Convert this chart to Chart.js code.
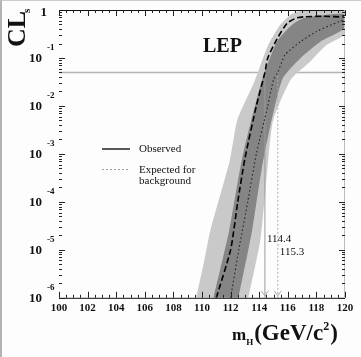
<!DOCTYPE html>
<html>
<head>
<meta charset="utf-8">
<script src="https://cdn.jsdelivr.net/npm/chart.js@4.4.0/dist/chart.umd.min.js"></script>
<style>
  html, body { margin: 0; padding: 0; background: #fdfdfd; }
  #wrap { position: relative; width: 361px; height: 357px; box-sizing: border-box;
          border-left: 2px solid #b4b4b4; border-top: 1px solid #cccccc; }
  canvas { display: block; }
</style>
</head>
<body>
<div id="wrap"><canvas id="cls-chart"></canvas></div>
<script>
// observed CLs vs Higgs mass
const obsMass = [111.0, 112.0, 112.5, 113.0, 113.8, 114.4, 114.6, 115.25, 115.95, 116.6, 117.1, 118.5, 120.0];
const obsCLs = [1e-6, 1e-5, 1e-4, 8e-4, 1e-2, 0.05, 0.1, 0.25, 0.53, 0.68, 0.72, 0.74, 0.71];

// expected for background
const expMass = [112.0, 112.57, 113.2, 113.8, 114.6, 115.0, 115.3, 115.8, 116.9, 118.0, 119.6, 120.0];
const expCLs = [1e-6, 1e-5, 1e-4, 1e-3, 1e-2, 0.035, 0.05, 0.115, 0.22, 0.355, 0.575, 0.63];

// 1 sigma band (upper CLs edge / lower CLs edge)
const band1UpMass = [110.8, 111.9, 112.8, 114.2, 115.25, 116.3, 117.1, 118.5, 120.0];
const band1UpCLs = [1e-6, 2.5e-5, 7.9e-4, 0.035, 0.22, 0.49, 0.68, 0.78, 0.81];
const band1DnMass = [112.55, 113.5, 114.3, 115.6, 116.9, 118.3, 120.0];
const band1DnCLs = [1e-6, 2.5e-5, 7.9e-4, 0.035, 0.1, 0.22, 0.42];

// 2 sigma band
const band2UpMass = [109.6, 110.17, 110.59, 111.95, 112.47, 113.66, 114.63, 115.47, 116.17, 116.86, 120.0];
const band2UpCLs = [1e-6, 6.2e-6, 2.6e-5, 7.5e-4, 5.1e-3, 0.032, 0.186, 0.49, 0.79, 0.955, 0.98];
const band2DnMass = [113.24, 114.08, 114.63, 114.98, 116.2, 117.55, 118.7, 120.0];
const band2DnCLs = [1e-6, 1.6e-5, 7.5e-4, 5.1e-3, 0.035, 0.083, 0.186, 0.316];

// limits
const clLevel = 0.05;
const obsLimit = 114.4;
const expLimit = 115.3;

// axes
const xMin = 100, xMax = 120;
const yMin = 1e-6, yMax = 1;
const yTickValues = [1e-6, 1e-5, 1e-4, 1e-3, 1e-2, 1e-1];
const yTickExps = ["-6", "-5", "-4", "-3", "-2", "-1"];

const serif = "'Liberation Serif', 'DejaVu Serif', serif";

function toPoints(xs, ys) {
  return xs.map((x, i) => ({ x: x, y: ys[i] }));
}
function bandShape(upM, upC, dnM, dnC) {
  return toPoints(upM, upC).concat(toPoints(dnM, dnC).reverse());
}

const decorations = {
  id: "decorations",
  afterDatasetsDraw(chart) {
    const { ctx, chartArea: a, scales: { x, y } } = chart;
    ctx.save();

    // frame
    ctx.lineWidth = 1;
    ctx.strokeStyle = "#111";
    ctx.beginPath();
    ctx.moveTo(a.left, a.top + 0.5); ctx.lineTo(a.right, a.top + 0.5);
    ctx.moveTo(a.left, a.bottom + 0.5); ctx.lineTo(a.right, a.bottom + 0.5);
    ctx.stroke();
    ctx.strokeStyle = "#bdbdbd";
    ctx.beginPath();
    ctx.moveTo(a.right - 0.5, a.top); ctx.lineTo(a.right - 0.5, a.bottom);
    ctx.stroke();

    // x ticks, inside
    ctx.strokeStyle = "#222";
    ctx.beginPath();
    for (let m = xMin; m <= xMax; m += 0.5) {
      const px = Math.round(x.getPixelForValue(m)) + 0.5;
      const len = m % 2 === 0 ? 6 : 3;
      ctx.moveTo(px, a.bottom); ctx.lineTo(px, a.bottom - len);
      ctx.moveTo(px, a.top); ctx.lineTo(px, a.top + len);
    }
    // y ticks, inside
    for (const v0 of yTickValues) {
      for (let k = 1; k <= 9; k++) {
        const py = Math.round(y.getPixelForValue(v0 * k)) + 0.5;
        const len = k === 1 ? 6 : 3;
        ctx.moveTo(a.left, py); ctx.lineTo(a.left + len, py);
        ctx.moveTo(a.right, py); ctx.lineTo(a.right - len, py);
      }
    }
    ctx.stroke();

    // y tick labels 10^n
    ctx.fillStyle = "#111";
    ctx.textBaseline = "middle";
    yTickValues.forEach((v, i) => {
      const py = y.getPixelForValue(v);
      ctx.font = "bold 13px " + serif;
      ctx.textAlign = "right";
      ctx.fillText("10", a.left - 17, py + 1);
      ctx.font = "bold 9px " + serif;
      ctx.textAlign = "left";
      ctx.fillText(yTickExps[i], a.left - 12, py - 10);
    });
    ctx.font = "bold 13px " + serif;
    ctx.textAlign = "right";
    ctx.fillText("1", a.left - 12, y.getPixelForValue(yMax) + 3);

    // y title CL_s
    ctx.save();
    ctx.translate(a.left - 34, a.top + 37);
    ctx.rotate(-Math.PI / 2);
    ctx.textAlign = "left";
    ctx.textBaseline = "alphabetic";
    ctx.font = "bold 26px " + serif;
    ctx.fillText("CL", 0, 0);
    const w = ctx.measureText("CL").width;
    ctx.font = "bold 11px " + serif;
    ctx.fillText("s", w - 2, 5);
    ctx.restore();

    // x title m_H(GeV/c^2)
    ctx.textAlign = "left";
    ctx.textBaseline = "alphabetic";
    let tx = a.right - 113;
    const ty = a.bottom + 42;
    ctx.font = "bold 17px " + serif;
    ctx.fillText("m", tx, ty);
    tx += ctx.measureText("m").width;
    ctx.font = "bold 9px " + serif;
    ctx.fillText("H", tx, ty + 5);
    tx += ctx.measureText("H").width + 1;
    ctx.font = "bold 23px " + serif;
    ctx.fillText("(GeV/c", tx, ty);
    tx += ctx.measureText("(GeV/c").width;
    ctx.font = "bold 12px " + serif;
    ctx.fillText("2", tx, ty - 10);
    tx += ctx.measureText("2").width + 1;
    ctx.font = "bold 23px " + serif;
    ctx.fillText(")", tx, ty);

    // LEP
    ctx.font = "bold 20px " + serif;
    ctx.fillText("LEP", a.left + 144, a.top + 42);

    // legend
    ctx.lineWidth = 1.3;
    ctx.strokeStyle = "#000";
    ctx.beginPath();
    ctx.moveTo(a.left + 43, a.top + 139); ctx.lineTo(a.left + 71, a.top + 139);
    ctx.stroke();
    ctx.strokeStyle = "#999";
    ctx.lineWidth = 1;
    ctx.setLineDash([2, 2]);
    ctx.beginPath();
    ctx.moveTo(a.left + 43, a.top + 159.5); ctx.lineTo(a.left + 71, a.top + 159.5);
    ctx.stroke();
    ctx.setLineDash([]);
    ctx.font = "11px " + serif;
    ctx.textBaseline = "middle";
    ctx.fillText("Observed", a.left + 80, a.top + 139);
    ctx.fillText("Expected for", a.left + 80, a.top + 160);
    ctx.fillText("background", a.left + 80, a.top + 171);

    // limit values
    ctx.fillText(String(obsLimit), x.getPixelForValue(obsLimit) + 2, a.top + 229);
    ctx.fillText(String(expLimit), x.getPixelForValue(expLimit) + 2, a.top + 242);

    // arrow heads at the bottom of the limit lines
    ctx.strokeStyle = "#aaa";
    ctx.lineWidth = 1;
    for (const lim of [obsLimit, expLimit]) {
      const px = x.getPixelForValue(lim);
      ctx.beginPath();
      ctx.moveTo(px - 3.5, a.bottom - 7); ctx.lineTo(px, a.bottom - 2); ctx.lineTo(px + 3.5, a.bottom - 7);
      ctx.stroke();
    }

    ctx.restore();
  }
};

new Chart(document.getElementById("cls-chart").getContext("2d"), {
  type: "line",
  data: {
    datasets: [
      {
        label: "Observed",
        data: toPoints(obsMass, obsCLs),
        borderColor: "#000",
        borderWidth: 1.6,
        borderDash: [6, 3],
        tension: 0.2,
        pointRadius: 0,
        fill: false,
        order: 0,
      },
      {
        label: "Expected for background",
        data: toPoints(expMass, expCLs),
        borderColor: "#2a2a2a",
        borderWidth: 1.2,
        borderDash: [1.5, 2.5],
        tension: 0.2,
        pointRadius: 0,
        fill: false,
        order: 0,
      },
      {
        label: "observed limit",
        data: [{ x: obsLimit, y: yMin }, { x: obsLimit, y: clLevel }],
        borderColor: "#9a9a9a",
        borderWidth: 1,
        pointRadius: 0,
        fill: false,
        order: 1,
      },
      {
        label: "expected limit",
        data: [{ x: expLimit, y: yMin }, { x: expLimit, y: clLevel }],
        borderColor: "#ababab",
        borderWidth: 1,
        borderDash: [2, 2],
        pointRadius: 0,
        fill: false,
        order: 1,
      },
      {
        label: "1 sigma",
        data: bandShape(band1UpMass, band1UpCLs, band1DnMass, band1DnCLs),
        borderColor: "rgba(0,0,0,0)",
        borderWidth: 0,
        backgroundColor: "#858585",
        tension: 0.2,
        pointRadius: 0,
        fill: "shape",
        order: 3,
      },
      {
        label: "2 sigma",
        data: bandShape(band2UpMass, band2UpCLs, band2DnMass, band2DnCLs),
        borderColor: "rgba(0,0,0,0)",
        borderWidth: 0,
        backgroundColor: "#c9c9c9",
        tension: 0.2,
        pointRadius: 0,
        fill: "shape",
        order: 4,
      },
      {
        label: "95% CL",
        data: [{ x: xMin, y: clLevel }, { x: xMax, y: clLevel }],
        borderColor: "#b4b4b4",
        borderWidth: 1.5,
        pointRadius: 0,
        fill: false,
        order: 5,
      },
    ],
  },
  options: {
    animation: false,
    responsive: true,
    maintainAspectRatio: false,
    layout: { padding: { left: 57, top: 9, right: 16, bottom: 38 } },
    plugins: { legend: { display: false }, tooltip: { enabled: false } },
    scales: {
      x: {
        type: "linear",
        min: xMin,
        max: xMax,
        grid: { display: false, drawTicks: false },
        border: { display: false },
        ticks: {
          stepSize: 2,
          padding: 4,
          color: "#111",
          font: { family: serif, size: 11, weight: "bold" },
        },
      },
      y: {
        type: "logarithmic",
        min: yMin,
        max: yMax,
        display: false,
      },
    },
  },
  plugins: [decorations],
});
</script>
</body>
</html>
